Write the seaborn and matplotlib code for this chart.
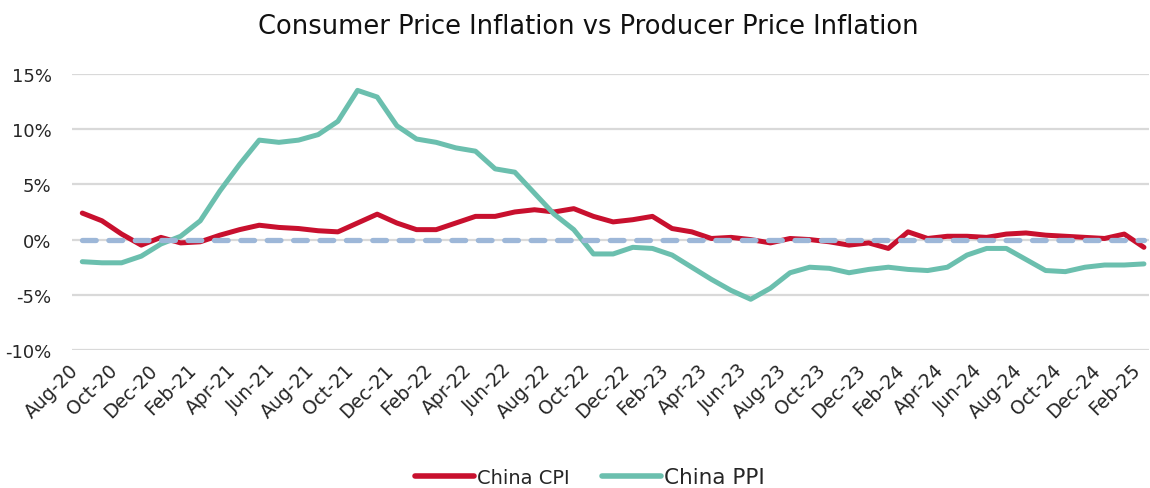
import numpy as np
import pandas as pd
import matplotlib
matplotlib.use("Agg")
import matplotlib.pyplot as plt
import seaborn as sns

# monthly data, Aug-20 .. Feb-25 (year-on-year %)
months = pd.date_range("2020-08-01", "2025-02-01", freq="MS")
month_labels = [m.strftime("%b-%y") for m in months]

china_cpi = [2.4, 1.7, 0.5, -0.5, 0.2, -0.3, -0.2, 0.4, 0.9, 1.3, 1.1, 1.0,
             0.8, 0.7, 1.5, 2.3, 1.5, 0.9, 0.9, 1.5, 2.1, 2.1, 2.5, 2.7,
             2.5, 2.8, 2.1, 1.6, 1.8, 2.1, 1.0, 0.7, 0.1, 0.2, 0.0, -0.3,
             0.1, 0.0, -0.2, -0.5, -0.3, -0.8, 0.7, 0.1, 0.3, 0.3, 0.2, 0.5,
             0.6, 0.4, 0.3, 0.2, 0.1, 0.5, -0.7]
china_ppi = [-2.0, -2.1, -2.1, -1.5, -0.4, 0.3, 1.7, 4.4, 6.8, 9.0, 8.8, 9.0,
             9.5, 10.7, 13.5, 12.9, 10.3, 9.1, 8.8, 8.3, 8.0, 6.4, 6.1, 4.2,
             2.3, 0.9, -1.3, -1.3, -0.7, -0.8, -1.4, -2.5, -3.6, -4.6, -5.4, -4.4,
             -3.0, -2.5, -2.6, -3.0, -2.7, -2.5, -2.7, -2.8, -2.5, -1.4, -0.8, -0.8,
             -1.8, -2.8, -2.9, -2.5, -2.3, -2.3, -2.2]
zero_line = [0.0] * len(months)
y_ticks = [-10, -5, 0, 5, 10, 15]

df = pd.DataFrame({
    "idx": np.arange(len(months)),
    "China CPI": china_cpi,
    "China PPI": china_ppi,
})
long_df = df.melt(id_vars="idx", var_name="series", value_name="value")

sns.set_theme(style="white")
plt.rcParams["font.family"] = ["DejaVu Sans"]

fig = plt.figure(figsize=(11.5, 4.89), dpi=100)
ax = fig.add_axes([0.063, 0.282, 0.936, 0.565])

for y in y_ticks:
    ax.axhline(y, color="#d9d9d9", lw=1.6, zorder=0)

sns.lineplot(data=long_df, x="idx", y="value", hue="series",
             palette={"China CPI": "#c8102e", "China PPI": "#6bbfae"},
             linewidth=3.6, ax=ax, legend=True, zorder=2,
             solid_capstyle="round")
ax.plot(df["idx"], zero_line, color="#9db7d8", lw=3.8, dashes=(2.6, 2.4),
        dash_capstyle="round", zorder=3)

ax.set_xlim(-0.5, 54.25)
ax.set_ylim(-10, 15)
ax.set_yticks(y_ticks)
ax.set_yticklabels([f"{v}%" for v in y_ticks], fontsize=13, color="#262626")
ax.set_xticks(df["idx"][::2])
ax.set_xticklabels(month_labels[::2], rotation=45, ha="right", va="top",
                   rotation_mode="default", fontsize=13.5, color="#262626")
ax.tick_params(axis="x", length=0, pad=7)
ax.tick_params(axis="y", length=0, pad=15)
ax.set_xlabel("")
ax.set_ylabel("")
for s in ax.spines.values():
    s.set_visible(False)

fig.text(0.512, 0.945, "Consumer Price Inflation vs Producer Price Inflation",
         ha="center", va="center", fontsize=18.5, color="#111111")

handles, labels = ax.get_legend_handles_labels()
ax.get_legend().remove()
leg = fig.legend(handles[:2], labels[:2], loc="center",
                 bbox_to_anchor=(0.513, 0.022), ncol=2, frameon=False,
                 fontsize=14, handlelength=3.0, handletextpad=0.15,
                 columnspacing=1.7)
for line in leg.get_lines():
    line.set_linewidth(4)
for t in leg.get_texts():
    t.set_color("#262626")
leg.get_texts()[1].set_fontsize(15.5)

fig.savefig("out.png", dpi=100)
